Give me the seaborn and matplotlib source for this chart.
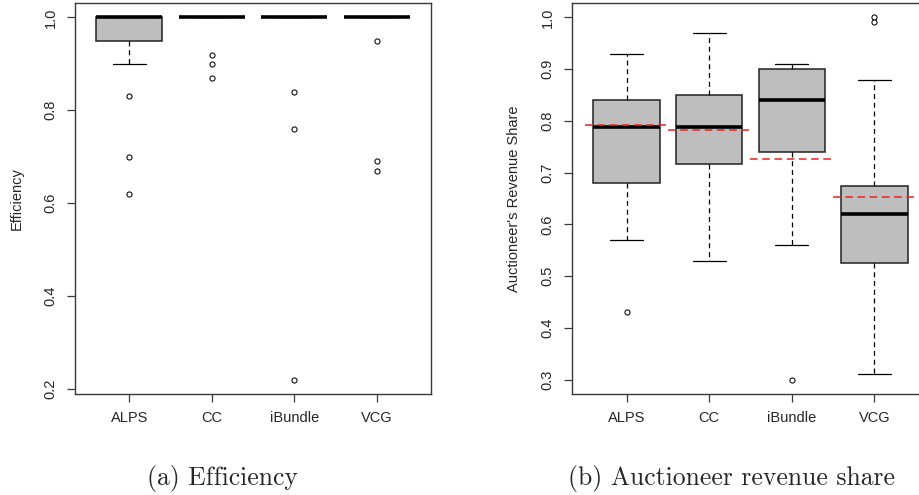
import matplotlib
matplotlib.use("Agg")
import matplotlib.pyplot as plt
import seaborn as sns
import pandas as pd

# ---------------- data ----------------
categories = ["ALPS", "CC", "iBundle", "VCG"]

# (a) Efficiency: box summaries
eff_whislo = [0.90, 1.00, 1.00, 1.00]
eff_q1     = [0.95, 1.00, 1.00, 1.00]
eff_med    = [1.00, 1.00, 1.00, 1.00]
eff_q3     = [1.00, 1.00, 1.00, 1.00]
eff_whishi = [1.00, 1.00, 1.00, 1.00]
eff_out_cat = ["ALPS", "ALPS", "ALPS", "CC", "CC", "CC",
               "iBundle", "iBundle", "iBundle", "VCG", "VCG", "VCG"]
eff_out_val = [0.83, 0.70, 0.62, 0.92, 0.90, 0.87,
               0.84, 0.76, 0.22, 0.95, 0.69, 0.67]

# (b) Auctioneer revenue share: box summaries
rev_whislo = [0.57, 0.53, 0.56, 0.31]
rev_q1     = [0.68, 0.716, 0.74, 0.525]
rev_med    = [0.789, 0.789, 0.841, 0.62]
rev_q3     = [0.841, 0.85, 0.90, 0.675]
rev_whishi = [0.93, 0.97, 0.911, 0.879]
rev_mean   = [0.793, 0.782, 0.726, 0.652]
rev_out_cat = ["ALPS", "iBundle", "VCG", "VCG"]
rev_out_val = [0.43, 0.30, 1.00, 0.992]

eff_ticks = [0.2, 0.4, 0.6, 0.8, 1.0]
rev_ticks = [0.3, 0.4, 0.5, 0.6, 0.7, 0.8, 0.9, 1.0]

# ---------------- style ----------------
sns.set_theme(style="white")
plt.rcParams["font.family"] = ["Liberation Sans", "DejaVu Sans"]
plt.rcParams["axes.edgecolor"] = "#3a3a3a"
plt.rcParams["axes.linewidth"] = 1.0

fig = plt.figure(figsize=(9.2, 4.95), dpi=100)
ax1 = fig.add_axes([75 / 920, 101 / 495, 356 / 920, 391 / 495])
ax2 = fig.add_axes([572 / 920, 101 / 495, 357 / 920, 391 / 495])

FS = 10.5


def draw_panel(ax, whislo, q1, med, q3, whishi, out_cat, out_val, ylim, ticks, ylabel):
    stats = []
    for i, c in enumerate(categories):
        stats.append(dict(label=c, whislo=whislo[i], q1=q1[i], med=med[i],
                          q3=q3[i], whishi=whishi[i], fliers=[]))
    ax.bxp(stats, positions=range(len(categories)), widths=0.8,
           patch_artist=True, showfliers=False,
           boxprops=dict(facecolor="#BEBEBE", edgecolor="#222222", linewidth=1.1),
           medianprops=dict(color="black", linewidth=2.6, solid_capstyle="butt"),
           whiskerprops=dict(color="black", linewidth=0.9, linestyle=(0, (4, 3))),
           capprops=dict(color="black", linewidth=0.9), capwidths=0.4)
    df = pd.DataFrame({"cat": out_cat, "val": out_val})
    sns.stripplot(data=df, x="cat", y="val", order=categories, jitter=False,
                  color="white", edgecolor="black", linewidth=0.75, size=3.7,
                  ax=ax, zorder=5)
    ax.set_xlim(-0.66, 3.66)
    ax.set_ylim(*ylim)
    ax.set_xticks(range(len(categories)))
    ax.set_xticklabels(categories, fontsize=FS)
    ax.set_yticks(ticks)
    ax.set_yticklabels([f"{t:.1f}" for t in ticks], fontsize=FS,
                       rotation=90, va="center")
    ax.tick_params(axis="both", which="major", direction="out", length=6,
                   width=0.9, color="#3a3a3a", pad=6.5, left=True, bottom=True)
    ax.set_xlabel("")
    ax.set_ylabel(ylabel, fontsize=FS, va="center")
    ax.yaxis.set_label_coords(-0.163, 0.5)
    for s in ax.spines.values():
        s.set_visible(True)


draw_panel(ax1, eff_whislo, eff_q1, eff_med, eff_q3, eff_whishi,
           eff_out_cat, eff_out_val, (0.1888, 1.0312), eff_ticks, "Efficiency")
draw_panel(ax2, rev_whislo, rev_q1, rev_med, rev_q3, rev_whishi,
           rev_out_cat, rev_out_val, (0.272, 1.028), rev_ticks,
           "Auctioneer's Revenue Share")

# mean lines (red dashed)
for i, m in enumerate(rev_mean):
    ax2.hlines(m, i - 0.5, i + 0.5, colors="#e8231f", linewidth=1.1,
               linestyles=(0, (5, 3)), zorder=6)

fig.text(222 / 920, 10 / 495, "(a) Efficiency", family="cmr10", fontsize=18.5,
         ha="center", va="baseline")
fig.text(732 / 920, 10 / 495, "(b) Auctioneer revenue share", family="cmr10",
         fontsize=18.5, ha="center", va="baseline")

fig.savefig("out.png", dpi=100)
